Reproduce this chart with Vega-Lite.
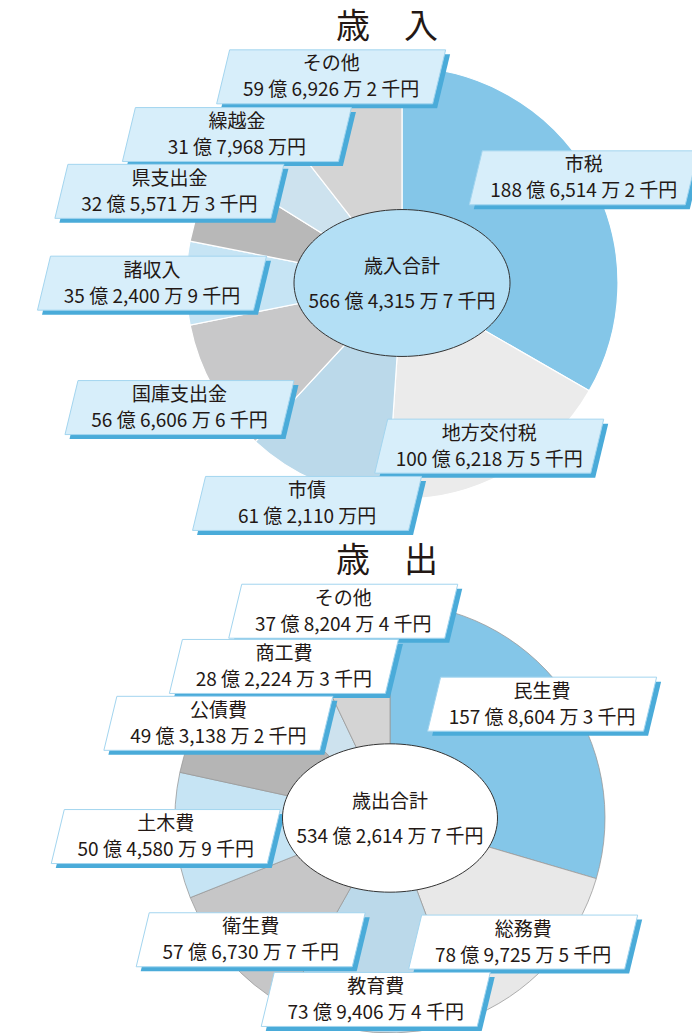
{
  "$schema": "https://vega.github.io/schema/vega-lite/v6.json",
  "autosize": {"type": "none"},
  "padding": {"left": 96, "top": 48, "right": 596, "bottom": 985},
  "background": "#ffffff",
  "config": {"view": {"stroke": null}, "font": "Noto Sans CJK JP"},
  "spacing": 65,
  "bounds": "flush",
  "resolve": {"scale": {"color": "independent", "theta": "independent", "x": "independent", "y": "independent"}},
  "vconcat": [
    {
      "width": 612,
      "height": 470,
      "title": {"text": "歳　入", "fontSize": 34, "fontWeight": "normal", "font": "Noto Sans CJK JP", "color": "#231815", "dx": -15, "offset": 3},
      "data": {"values": [
        {"no": 1, "name": "市税", "amount": "188 億 6,514 万 2 千円", "value": 188.65142},
        {"no": 2, "name": "地方交付税", "amount": "100 億 6,218 万 5 千円", "value": 100.62185},
        {"no": 3, "name": "市債", "amount": "61 億 2,110 万円", "value": 61.2110},
        {"no": 4, "name": "国庫支出金", "amount": "56 億 6,606 万 6 千円", "value": 56.66066},
        {"no": 5, "name": "諸収入", "amount": "35 億 2,400 万 9 千円", "value": 35.24009},
        {"no": 6, "name": "県支出金", "amount": "32 億 5,571 万 3 千円", "value": 32.55713},
        {"no": 7, "name": "繰越金", "amount": "31 億 7,968 万円", "value": 31.7968},
        {"no": 8, "name": "その他", "amount": "59 億 6,926 万 2 千円", "value": 59.69262}
      ]},
      "layer": [
        {
          "mark": {"type": "arc", "outerRadius": 216, "stroke": "#ffffff", "strokeWidth": 1.2},
          "encoding": {
            "theta": {"field": "value", "type": "quantitative", "stack": true},
            "order": {"field": "no", "type": "quantitative"},
            "color": {"field": "name", "type": "nominal", "legend": null,
              "scale": {"domain": ["市税", "地方交付税", "市債", "国庫支出金", "諸収入", "県支出金", "繰越金", "その他"],
                        "range": ["#84c6e8", "#ebebeb", "#bbd9ea", "#c8c8c9", "#c6e4f4", "#b8b8b8", "#cde2ee", "#d4d4d4"]}}
          }
        },
        {
          "transform": [
            {"window": [{"op": "sum", "field": "value", "as": "cum"}], "sort": [{"field": "no", "order": "ascending"}], "frame": [null, 0]},
            {"joinaggregate": [{"op": "sum", "field": "value", "as": "total"}]},
            {"calculate": "2*PI*(datum.cum - datum.value/2)/datum.total", "as": "ang"},
            {"calculate": "datum.name==='市税'?210:datum.name==='地方交付税'?185:datum.name==='市債'?240:datum.name==='国庫支出金'?255:datum.name==='諸収入'?250:datum.name==='県支出金'?250:datum.name==='繰越金'?222:218", "as": "rad"},
            {"calculate": "datum.rad*sin(datum.ang)", "as": "lx"},
            {"calculate": "datum.rad*cos(datum.ang)", "as": "ly"}
          ],
          "encoding": {
            "x": {"field": "lx", "type": "quantitative", "scale": {"domain": [-306, 306], "nice": false, "zero": false}, "axis": null},
            "y": {"field": "ly", "type": "quantitative", "scale": {"domain": [-235, 235], "nice": false, "zero": false}, "axis": null}
          },
          "layer": [
            {"mark": {"type": "point", "shape": "M-0.8435,-0.1957L1.0348,-0.1957L0.9217,0.2739L-0.9565,0.2739Z", "size": 52900, "filled": true, "fill": "#4aabd9", "strokeWidth": 0, "opacity": 1}},
            {"mark": {"type": "point", "shape": "M-0.8826,-0.2348L0.9957,-0.2348L0.8826,0.2348L-0.9957,0.2348Z", "size": 52900, "filled": true, "fill": "#d7eefa", "stroke": "#a3d5ef", "strokeWidth": 1, "opacity": 1}},
            {"mark": {"type": "text", "fontSize": 19, "dy": -12.5, "fill": "#231815"}, "encoding": {"text": {"field": "name"}}},
            {"mark": {"type": "text", "fontSize": 19, "dy": 13.5, "fill": "#231815"}, "encoding": {"text": {"field": "amount"}}}
          ]
        },
        {
          "data": {"values": [{"label": "歳入合計", "amount": "566 億 4,315 万 7 千円", "value": 566.43157}]},
          "layer": [
            {"mark": {"type": "point", "shape": "M-1,0C-1,-0.3756,-0.5523,-0.68,0,-0.68C0.5523,-0.68,1,-0.3756,1,0C1,0.3756,0.5523,0.68,0,0.68C-0.5523,0.68,-1,0.3756,-1,0Z", "size": 46656, "filled": true, "fill": "#b3dff5", "stroke": "#333333", "strokeWidth": 1, "opacity": 1}, "encoding": {}},
            {"mark": {"type": "text", "fontSize": 19, "dy": -16, "fill": "#231815"}, "encoding": {"text": {"field": "label"}}},
            {"mark": {"type": "text", "fontSize": 19, "dy": 19, "fill": "#231815"}, "encoding": {"text": {"field": "amount"}}}
          ]
        }
      ]
    },
    {
      "width": 588,
      "height": 470,
      "title": {"text": "歳　出", "fontSize": 34, "fontWeight": "normal", "font": "Noto Sans CJK JP", "color": "#231815", "dx": -3, "offset": 3},
      "data": {"values": [
        {"no": 1, "name": "民生費", "amount": "157 億 8,604 万 3 千円", "value": 157.86043},
        {"no": 2, "name": "総務費", "amount": "78 億 9,725 万 5 千円", "value": 78.97255},
        {"no": 3, "name": "教育費", "amount": "73 億 9,406 万 4 千円", "value": 73.94064},
        {"no": 4, "name": "衛生費", "amount": "57 億 6,730 万 7 千円", "value": 57.67307},
        {"no": 5, "name": "土木費", "amount": "50 億 4,580 万 9 千円", "value": 50.45809},
        {"no": 6, "name": "公債費", "amount": "49 億 3,138 万 2 千円", "value": 49.31382},
        {"no": 7, "name": "商工費", "amount": "28 億 2,224 万 3 千円", "value": 28.22243},
        {"no": 8, "name": "その他", "amount": "37 億 8,204 万 4 千円", "value": 37.82044}
      ]},
      "layer": [
        {
          "mark": {"type": "arc", "outerRadius": 215, "stroke": "#9a9a9a", "strokeWidth": 0.8},
          "encoding": {
            "theta": {"field": "value", "type": "quantitative", "stack": true},
            "order": {"field": "no", "type": "quantitative"},
            "color": {"field": "name", "type": "nominal", "legend": null,
              "scale": {"domain": ["民生費", "総務費", "教育費", "衛生費", "土木費", "公債費", "商工費", "その他"],
                        "range": ["#84c6e8", "#e8e8e8", "#bbd9ea", "#c6c6c7", "#c6e4f4", "#b5b5b5", "#cde2ee", "#d4d4d4"]}}
          }
        },
        {
          "transform": [
            {"window": [{"op": "sum", "field": "value", "as": "cum"}], "sort": [{"field": "no", "order": "ascending"}], "frame": [null, 0]},
            {"joinaggregate": [{"op": "sum", "field": "value", "as": "total"}]},
            {"calculate": "2*PI*(datum.cum - datum.value/2)/datum.total", "as": "ang"},
            {"calculate": "datum.name==='民生費'?190:datum.name==='総務費'?182:datum.name==='教育費'?182:datum.name==='衛生費'?185:datum.name==='土木費'?225:datum.name==='公債費'?196:datum.name==='商工費'?185:212", "as": "rad"},
            {"calculate": "datum.rad*sin(datum.ang)", "as": "lx"},
            {"calculate": "datum.rad*cos(datum.ang)", "as": "ly"}
          ],
          "encoding": {
            "x": {"field": "lx", "type": "quantitative", "scale": {"domain": [-294, 294], "nice": false, "zero": false}, "axis": null},
            "y": {"field": "ly", "type": "quantitative", "scale": {"domain": [-235, 235], "nice": false, "zero": false}, "axis": null}
          },
          "layer": [
            {"mark": {"type": "point", "shape": "M-0.8435,-0.1957L1.0348,-0.1957L0.9217,0.2739L-0.9565,0.2739Z", "size": 52900, "filled": true, "fill": "#4aabd9", "strokeWidth": 0, "opacity": 1}},
            {"mark": {"type": "point", "shape": "M-0.8826,-0.2348L0.9957,-0.2348L0.8826,0.2348L-0.9957,0.2348Z", "size": 52900, "filled": true, "fill": "#ffffff", "stroke": "#a3d5ef", "strokeWidth": 1, "opacity": 1}},
            {"mark": {"type": "text", "fontSize": 19, "dy": -12.5, "fill": "#231815"}, "encoding": {"text": {"field": "name"}}},
            {"mark": {"type": "text", "fontSize": 19, "dy": 13.5, "fill": "#231815"}, "encoding": {"text": {"field": "amount"}}}
          ]
        },
        {
          "data": {"values": [{"label": "歳出合計", "amount": "534 億 2,614 万 7 千円", "value": 534.26147}]},
          "layer": [
            {"mark": {"type": "point", "shape": "M-1,0C-1,-0.3811,-0.5523,-0.69,0,-0.69C0.5523,-0.69,1,-0.3811,1,0C1,0.3811,0.5523,0.69,0,0.69C-0.5523,0.69,-1,0.3811,-1,0Z", "size": 46225, "filled": true, "fill": "#ffffff", "stroke": "#333333", "strokeWidth": 1, "opacity": 1}, "encoding": {}},
            {"mark": {"type": "text", "fontSize": 19, "dy": -16, "fill": "#231815"}, "encoding": {"text": {"field": "label"}}},
            {"mark": {"type": "text", "fontSize": 19, "dy": 19, "fill": "#231815"}, "encoding": {"text": {"field": "amount"}}}
          ]
        }
      ]
    }
  ]
}
